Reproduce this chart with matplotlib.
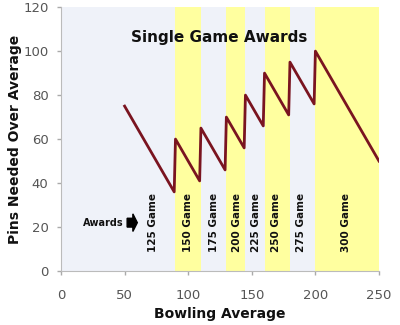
import matplotlib
matplotlib.use("Agg")
import matplotlib.pyplot as plt
from matplotlib.patches import FancyArrow

# Data
averages = [50, 89, 90, 109, 110, 129, 130, 144, 145, 159, 160, 179, 180, 199, 200, 250]
pins_needed = [75, 36, 60, 41, 65, 46, 70, 56, 80, 66, 90, 71, 95, 76, 100, 50]

band_starts = [0, 90, 110, 130, 145, 160, 180, 200]
band_ends = [90, 110, 130, 145, 160, 180, 200, 250]
band_labels = ["125 Game", "150 Game", "175 Game", "200 Game", "225 Game", "250 Game", "275 Game", "300 Game"]
band_label_x = [72, 100, 120, 138, 153, 169, 189, 224]
band_colors = ["#eff2f9", "#ffff9f"]

x_ticks = [0, 50, 100, 150, 200, 250]
y_ticks = [0, 20, 40, 60, 80, 100, 120]

fig = plt.figure(figsize=(4, 3.25), dpi=100)
ax = fig.add_axes([0.1525, 0.166, 0.795, 0.812])

for i, (s, e) in enumerate(zip(band_starts, band_ends)):
    ax.axvspan(s, e, color=band_colors[i % 2], lw=0, zorder=0)

for lbl, x in zip(band_labels, band_label_x):
    ax.text(x, 22, lbl, rotation=90, ha="center", va="center", fontsize=7.5,
            fontweight="bold", color="#111111", zorder=3)

ax.plot(averages, pins_needed, color="#7a1420", lw=2, zorder=4)

ax.text(124, 106, "Single Game Awards", ha="center", va="center", fontsize=11,
        fontweight="bold", color="#111111", zorder=5)

ax.text(33, 22, "Awards", ha="center", va="center", fontsize=7, fontweight="bold",
        color="#111111", zorder=5)
ax.add_patch(FancyArrow(52, 22, 8, 0, width=4.0, head_width=8, head_length=3.5,
                        length_includes_head=True, color="black", zorder=5))

ax.set_xlim(0, 250)
ax.set_ylim(0, 120)
ax.set_xticks(x_ticks)
ax.set_yticks(y_ticks)
ax.tick_params(axis="both", colors="#aaaaaa", labelcolor="#555555", labelsize=9.5,
               length=3, width=1)
ax.tick_params(axis="x", pad=10)
ax.tick_params(axis="y", pad=6)
for sp in ["top", "right"]:
    ax.spines[sp].set_visible(False)
for sp in ["left", "bottom"]:
    ax.spines[sp].set_color("#bbbbbb")

ax.set_xlabel("Bowling Average", fontsize=10, fontweight="bold", color="#111111")
ax.set_ylabel("Pins Needed Over Average", fontsize=10, fontweight="bold", color="#111111")
ax.xaxis.set_label_coords(0.5, -0.136)
ax.yaxis.set_label_coords(-0.123, 0.5)

fig.savefig("out.png", dpi=100)
